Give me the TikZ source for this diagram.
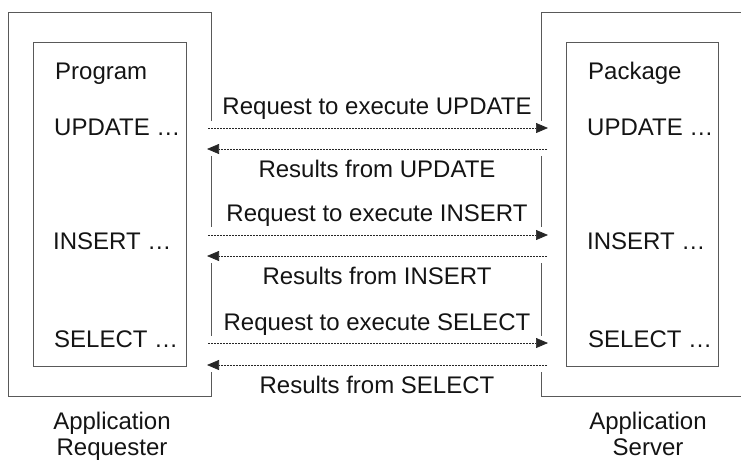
\documentclass[tikz,border=0pt]{standalone}
\usepackage{fontspec}
\setmainfont{Liberation Sans}
\usetikzlibrary{arrows.meta}
\begin{document}
\begin{tikzpicture}[x=1pt,y=-1pt,
  boxline/.style={draw=black!65, line width=0.9pt},
  txt/.style={inner sep=0pt, text=black!92, font=\fontsize{24}{28}\selectfont},
  flow/.style={draw=black!85, line width=0.7pt, dash pattern=on 2pt off 1pt,
    -{Triangle[length=12pt,width=10pt]}}]
\useasboundingbox (0,0) rectangle (741,459);
% outer boxes (with gaps where the messages cross)
\draw[boxline] (211,121) -- (211,12) -- (8,12) -- (8,396) -- (211,396) -- (211,372);
\draw[boxline] (211,156) -- (211,227);
\draw[boxline] (211,263) -- (211,336);
\draw[boxline] (741,12) -- (541,12) -- (541,121);
\draw[boxline] (541,156) -- (541,227);
\draw[boxline] (541,263) -- (541,336);
\draw[boxline] (541,372) -- (541,396) -- (741,396);
% inner boxes
\node[boxline, minimum width=153pt, minimum height=324pt, inner sep=0pt] (inL) at (109.5,204) {};
\node[boxline, minimum width=152pt, minimum height=324pt, inner sep=0pt] (inR) at (642,204) {};
% contents
\node[txt, anchor=base west] (prog) at (55,79) {Program};
\node[txt, anchor=base west] (updL) at (54,135) {UPDATE \dots};
\node[txt, anchor=base west] (insL) at (53,249) {INSERT \dots};
\node[txt, anchor=base west] (selL) at (54,347) {SELECT \dots};
\node[txt, anchor=base west] (pkg) at (588,79) {Package};
\node[txt, anchor=base west] (updR) at (587,135) {UPDATE \dots};
\node[txt, anchor=base west] (insR) at (587,249) {INSERT \dots};
\node[txt, anchor=base west] (selR) at (588,347) {SELECT \dots};
% message end points
\coordinate (u1a) at (208,128); \coordinate (u1b) at (548,128);
\coordinate (u2a) at (547,149); \coordinate (u2b) at (207,149);
\coordinate (i1a) at (208,235); \coordinate (i1b) at (548,235);
\coordinate (i2a) at (547,256); \coordinate (i2b) at (207,256);
\coordinate (s1a) at (208,343); \coordinate (s1b) at (548,343);
\coordinate (s2a) at (547,365); \coordinate (s2b) at (207,365);
\draw[flow] (u1a) -- (u1b);
\draw[flow] (u2a) -- (u2b);
\draw[flow] (i1a) -- (i1b);
\draw[flow] (i2a) -- (i2b);
\draw[flow] (s1a) -- (s1b);
\draw[flow] (s2a) -- (s2b);
% message labels
\node[txt, anchor=base] (lu1) at (377,114) {Request to execute UPDATE};
\node[txt, anchor=base] (lu2) at (377,177) {Results from UPDATE};
\node[txt, anchor=base] (li1) at (377,221) {Request to execute INSERT};
\node[txt, anchor=base] (li2) at (377,284) {Results from INSERT};
\node[txt, anchor=base] (ls1) at (377,330) {Request to execute SELECT};
\node[txt, anchor=base] (ls2) at (377,393) {Results from SELECT};
% captions
\node[txt, anchor=base] (capL) at (112,429) {Application};
\node[txt, anchor=base] (capL2) at (112,455) {Requester};
\node[txt, anchor=base] (capR) at (648,429) {Application};
\node[txt, anchor=base] (capR2) at (648,455) {Server};
\end{tikzpicture}
\end{document}
